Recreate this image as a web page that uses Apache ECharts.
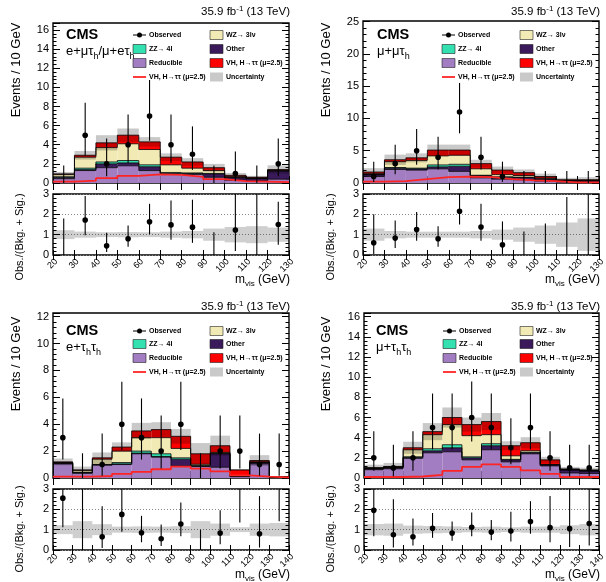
<!DOCTYPE html>
<html><head><meta charset="utf-8">
<script src="https://cdn.jsdelivr.net/npm/echarts@6/dist/echarts.min.js"></script>
<style>html,body{margin:0;padding:0;background:#fff}#c{width:606px;height:582px}</style>
</head><body><div id="c"></div>
<script>
// ---------------- DATA ----------------
const edgesA = [20,30,40,50,60,70,80,90,100,110,120,130];
const edgesB = [20,30,40,50,60,70,80,90,100,110,120,130,140];

// Panel 1: e+mu tau_h / mu+e tau_h
const p1Reducible = [0.45,1.3,1.6,1.8,1.3,0.9,0.9,0.6,0.3,0.2,0.4];
const p1Other     = [0.15,0.1,0.4,0.3,0.4,0.1,0.1,0.35,0.25,0.25,0.85];
const p1ZZ        = [0.05,0.15,0.2,0.25,0.2,0.1,0.05,0.05,0.02,0.02,0.03];
const p1WZ        = [0.25,1.15,1.5,1.75,1.6,0.8,0.5,0.3,0.1,0.05,0.05];
const p1VH        = [0.05,0.2,0.5,0.9,0.8,0.8,0.65,0.3,0.13,0.08,0.07];
const p1VHLine    = [0.15,0.25,0.5,0.75,0.9,0.85,0.65,0.4,0.2,0.15,0.1];
const p1Unc       = [0.2,0.45,0.8,0.7,0.5,0.4,0.4,0.4,0.25,0.15,0.45];
const p1Obs       = [0,5,2,4,7,4,3,0,1,0,2];
const p1ObsLo     = [0,2.84,0.71,2.09,4.42,2.09,1.37,0,0.17,0,0.71];
const p1ObsHi     = [1.84,8.38,4.64,7.16,10.77,7.16,5.92,1.84,3.3,1.84,4.64];
const p1Ratio     = [0,1.72,0.45,0.8,1.63,1.48,1.37,0,1.23,0,1.5];
const p1RatioLo   = [0,0.97,0.15,0.4,1.02,0.75,0.6,0,0.2,0,0.5];
const p1RatioHi   = [1.8,2.9,1.1,1.45,2.52,2.68,2.72,1.12,3.5,3.5,2.62];
const p1RatioUnc  = [0.22,0.15,0.12,0.13,0.12,0.15,0.18,0.3,0.38,0.42,0.35];

// Panel 2: mu+mu tau_h
const p2Reducible = [1.0,2.1,2.0,2.2,1.8,0.8,0.6,0.5,0.3,0.15,0.15];
const p2Other     = [0.3,0.2,0.2,0.3,0.8,0.35,0.3,0.35,0.3,0.2,0.2];
const p2ZZ        = [0.02,0.1,0.1,0.3,0.3,0.05,0.05,0.05,0.02,0.02,0.02];
const p2WZ        = [0.13,0.9,1.2,1.4,1.4,1.0,0.35,0.25,0.13,0.05,0.05];
const p2VH        = [0.25,0.3,0.4,0.9,0.8,0.8,0.7,0.45,0.25,0.08,0.08];
const p2VHLine    = [0.2,0.3,0.6,0.9,1.0,0.9,0.6,0.4,0.3,0.1,0.1];
const p2Unc       = [0.6,0.8,0.7,0.85,0.85,0.6,0.55,0.5,0.45,0.3,0.4];
const p2Obs       = [1,3,5,4,11,4,1,0,0,0,0];
const p2ObsLo     = [0.17,1.37,2.84,2.09,7.7,2.09,0.17,0,0,0,0];
const p2ObsHi     = [3.3,5.92,8.38,7.16,15.5,7.16,3.3,1.84,1.84,1.84,1.84];
const p2Ratio     = [0.6,0.83,1.25,0.8,2.15,1.38,0.5,0,0,0,0];
const p2RatioLo   = [0.05,0.35,0.7,0.4,1.5,0.7,0.05,0,0,0,0];
const p2RatioHi   = [2.0,1.7,2.12,1.42,3.1,2.52,1.65,1.15,1.55,2.85,3.5];
const p2RatioUnc  = [0.3,0.18,0.15,0.15,0.15,0.18,0.25,0.35,0.45,0.6,0.8];

// Panel 3: e+tau_h tau_h
const p3Reducible = [1.05,0.35,0.95,1.0,1.8,1.55,0.9,0.85,0.8,0.1,1.05,0.05];
const p3Other     = [0.05,0.05,0.05,0.05,0.05,0.05,0.5,0.05,1.0,0.02,0.1,0.01];
const p3ZZ        = [0.02,0.02,0.02,0.1,0.15,0.2,0.1,0.02,0.02,0.01,0.02,0];
const p3WZ        = [0.03,0.15,0.38,0.85,1.0,1.2,0.7,0.1,0.08,0.02,0.03,0.01];
const p3VH        = [0.05,0.03,0.1,0.3,0.5,0.6,0.9,0.78,0.5,0.45,0.1,0.03];
const p3VHLine    = [0.1,0.1,0.15,0.3,0.45,0.65,0.85,0.7,0.5,0.2,0.1,0.05];
const p3Unc       = [0.25,0.25,0.4,0.35,0.6,0.55,0.55,0.8,0.75,0.07,0.4,0.04];
const p3Obs       = [3,0,1,4,3,2,4,0,2,2,1,1];
const p3ObsLo     = [1.37,0,0.17,2.09,1.37,0.71,2.09,0,0.71,0.71,0.17,0.17];
const p3ObsHi     = [5.92,1.84,3.3,7.16,5.92,4.64,7.16,1.84,4.64,4.64,3.3,3.3];
const p3Ratio     = [2.55,0,0.65,1.75,0.85,0.55,1.28,0,0.83,3.4,0.8,8];
const p3RatioLo   = [1.12,0,0.1,0.9,0.38,0.2,0.68,0,0.28,1.35,0.12,1.42];
const p3RatioHi   = [3.5,3.5,2.15,3.05,1.68,1.25,2.33,1.0,1.95,6,2.65,30];
const p3RatioUnc  = [0.22,0.42,0.27,0.15,0.16,0.15,0.17,0.42,0.3,0.12,0.3,0.33];

// Panel 4: mu+tau_h tau_h
const p4Reducible = [0.85,0.95,1.95,2.5,2.6,1.8,2.8,1.6,2.4,1.2,0.5,0.45];
const p4Other     = [0.1,0.1,0.1,0.2,0.4,0.2,0.4,0.2,0.1,0.1,0.3,0.25];
const p4ZZ        = [0.02,0.02,0.05,0.2,0.3,0.1,0.2,0.05,0.05,0.02,0.02,0.02];
const p4WZ        = [0.02,0.03,0.7,1.4,2.0,2.1,0.9,0.35,0.15,0.03,0.03,0.03];
const p4VH        = [0.03,0.05,0.2,0.3,0.7,1.1,1.3,1.0,0.8,0.45,0.05,0.05];
const p4VHLine    = [0.1,0.1,0.15,0.3,0.7,1.1,1.35,1.1,0.75,0.4,0.1,0.1];
const p4Unc       = [0.3,0.35,0.6,0.85,1.0,0.7,0.85,0.45,0.55,0.3,0.2,0.22];
const p4Obs       = [2,1,2,5,5,6,5,3,5,2,1,1];
const p4ObsLo     = [0.71,0.17,0.71,2.84,2.84,3.62,2.84,1.37,2.84,0.71,0.17,0.17];
const p4ObsHi     = [4.64,3.3,4.64,8.38,8.38,9.58,8.38,5.92,8.38,4.64,3.3,3.3];
const p4Ratio     = [1.95,0.75,0.65,1.07,0.83,1.12,0.88,0.93,1.4,1.1,1.05,1.3];
const p4RatioLo   = [0.68,0.12,0.22,0.6,0.45,0.68,0.48,0.42,0.8,0.38,0.15,0.22];
const p4RatioHi   = [3.05,2.5,1.55,1.82,1.4,1.85,1.48,1.88,2.4,2.65,3.4,3.6];
const p4RatioUnc  = [0.28,0.3,0.2,0.18,0.16,0.13,0.15,0.12,0.15,0.15,0.22,0.28];

// ---------------- STYLE / LAYOUT ----------------
const FONT = '"Liberation Sans", Arial, Helvetica, sans-serif';
const C_RED = '#ff0000', C_ZZ = '#33e0b0', C_OTHER = '#3b1a5c', C_WZ = '#f2eab4', C_RED_LINE = '#ff2424', C_REDUC = '#a27dc1';
const compColors = [C_REDUC, C_OTHER, C_ZZ, C_WZ, C_RED];
const UNC_FILL = 'rgba(0,0,0,0.21)';

const panels = [
  {edges:edgesA, xmax:130, comps:[p1Reducible,p1Other,p1ZZ,p1WZ,p1VH], line:p1VHLine, unc:p1Unc,
   obs:p1Obs, lo:p1ObsLo, hi:p1ObsHi, r:p1Ratio, rlo:p1RatioLo, rhi:p1RatioHi, runc:p1RatioUnc,
   main:[53,23,236,160], ratio:[53,194,236,61], ymax:16.73, yint:2,
   label:'{n|e+μτ}{s|h}{n|/μ+eτ}{s|h}', cms:[66,35], lab:[66,51], lumi:[290,12],
   leg:{c1:133,c2:210,rows:[35,49,63,77]}, ytitle:[16,70], rtitle:[20,237], xtitle:[290,280]},
  {edges:edgesA, xmax:130, comps:[p2Reducible,p2Other,p2ZZ,p2WZ,p2VH], line:p2VHLine, unc:p2Unc,
   obs:p2Obs, lo:p2ObsLo, hi:p2ObsHi, r:p2Ratio, rlo:p2RatioLo, rhi:p2RatioHi, runc:p2RatioUnc,
   main:[363,21,236,162], ratio:[363,194,236,61], ymax:25.1, yint:5,
   label:'{n|μ+μτ}{s|h}', cms:[377,35], lab:[377,51], lumi:[600,12],
   leg:{c1:442,c2:520,rows:[35,49,63,77]}, ytitle:[326,70], rtitle:[331,237], xtitle:[600,280]},
  {edges:edgesB, xmax:140, comps:[p3Reducible,p3Other,p3ZZ,p3WZ,p3VH], line:p3VHLine, unc:p3Unc,
   obs:p3Obs, lo:p3ObsLo, hi:p3ObsHi, r:p3Ratio, rlo:p3RatioLo, rhi:p3RatioHi, runc:p3RatioUnc,
   main:[53,313,236,165], ratio:[53,489,236,61], ymax:12.27, yint:2,
   label:'{n|e+τ}{s|h}{n|τ}{s|h}', cms:[66,331], lab:[66,347], lumi:[290,307],
   leg:{c1:133,c2:210,rows:[331,344,358,372]}, ytitle:[16,364], rtitle:[20,529], xtitle:[290,575]},
  {edges:edgesB, xmax:140, comps:[p4Reducible,p4Other,p4ZZ,p4WZ,p4VH], line:p4VHLine, unc:p4Unc,
   obs:p4Obs, lo:p4ObsLo, hi:p4ObsHi, r:p4Ratio, rlo:p4RatioLo, rhi:p4RatioHi, runc:p4RatioUnc,
   main:[364,313,235,165], ratio:[364,489,235,61], ymax:16.37, yint:2,
   label:'{n|μ+τ}{s|h}{n|τ}{s|h}', cms:[376,331], lab:[376,347], lumi:[600,307],
   leg:{c1:443,c2:520,rows:[331,344,358,372]}, ytitle:[326,364], rtitle:[331,529], xtitle:[600,575]}
];

const grids = [], xAxes = [], yAxes = [], series = [], graphics = [];

function addGrid(b) {
  grids.push({left:b[0], top:b[1], width:b[2], height:b[3], show:true, borderColor:'#000', borderWidth:1.4,
    backgroundColor:'rgba(0,0,0,0)', containLabel:false, outerBoundsMode:'none'});
  return grids.length - 1;
}
function addAxes(gi, xmax, ymax, yint, isRatio) {
  const xBase = {type:'value', gridIndex:gi, min:20, max:xmax, interval:10,
    axisLine:{show:false}, splitLine:{show:false},
    axisTick:{show:true, inside:true, length:isRatio?5:7, lineStyle:{color:'#000', width:1}},
    minorTick:{show:false}};
  xAxes.push(Object.assign({}, xBase, {position:'bottom',
    axisLabel:{show:isRatio, rotate:45, fontSize:9, color:'#000', fontFamily:FONT, margin:2,
      verticalAlign:'top', showMinLabel:true, showMaxLabel:true, hideOverlap:false}}));
  xAxes.push(Object.assign({}, xBase, {position:'top', axisLabel:{show:false}}));
  const yBase = {type:'value', gridIndex:gi, min:0, max:ymax, interval:yint,
    axisLine:{show:false},
    axisTick:{show:true, inside:true, length:7, lineStyle:{color:'#000', width:1}},
    minorTick:{show:true, splitNumber:5, length:3.5, lineStyle:{color:'#000', width:1}},
    splitLine:isRatio ? {show:true, lineStyle:{color:'#888', type:[1,2], width:1}} : {show:false}};
  yAxes.push(Object.assign({}, yBase, {position:'left',
    axisLabel:{show:true, fontSize:11, color:'#000', fontFamily:FONT, margin:4,
      showMaxLabel:true, hideOverlap:false,
      formatter: v => (Math.abs(v/yint - Math.round(v/yint)) < 1e-6 ? String(Math.round(v)) : '')}}));
  yAxes.push(Object.assign({}, yBase, {position:'right', splitLine:{show:false}, axisLabel:{show:false}}));
}

function rectFrom(api, x0, x1, y0, y1) {
  const a = api.coord([x0, y1]), b = api.coord([x1, y0]);
  return {x:a[0], y:a[1], width:b[0]-a[0], height:b[1]-a[1]};
}

panels.forEach((P) => {
  const gm = addGrid(P.main); addAxes(gm, P.xmax, P.ymax, P.yint, false);
  const gr = addGrid(P.ratio); addAxes(gr, P.xmax, 3, 1, true);
  const xm = gm*2, xr = gr*2;
  const n = P.comps[0].length;

  // cumulative stack tops
  const cum = [];
  for (let i = 0; i < n; i++) { let s = 0; const c = []; P.comps.forEach(a => { s += a[i]; c.push(s); }); cum.push(c); }
  const totals = cum.map(c => c[c.length-1]);

  // stacked histogram
  series.push({type:'custom', xAxisIndex:xm, yAxisIndex:xm, z:1, silent:true, clip:true,
    data: cum.map((c,i) => [P.edges[i], P.edges[i+1]].concat(c)),
    renderItem(params, api) {
      const i = params.dataIndex, x0 = api.value(0), x1 = api.value(1);
      const ch = []; let base = 0;
      const k = P.comps.length;
      for (let j = 0; j < k; j++) {
        const top = api.value(2+j);
        const r = rectFrom(api, x0, x1, base, top);
        if (r.height > 0.3) ch.push({type:'rect', shape:r, style:{fill:compColors[j]}});
        base = top;
      }
      for (let j = 0; j < k; j++) {
        const top = api.value(2+j);
        const prev = i > 0 ? cum[i-1][j] : 0;
        const a = api.coord([x0, top]), b = api.coord([x1, top]), p = api.coord([x0, prev]);
        ch.push({type:'line', shape:{x1:a[0], y1:a[1], x2:b[0], y2:b[1]}, style:{stroke:'#000', lineWidth:0.8}});
        ch.push({type:'line', shape:{x1:p[0], y1:p[1], x2:a[0], y2:a[1]}, style:{stroke:'#000', lineWidth:0.8}});
      }
      return {type:'group', children:ch};
    }});

  // uncertainty band (main)
  series.push({type:'custom', xAxisIndex:xm, yAxisIndex:xm, z:2, silent:true, clip:true,
    data: totals.map((t,i) => [P.edges[i], P.edges[i+1], Math.max(0, t - P.unc[i]), t + P.unc[i]]),
    renderItem(params, api) {
      return {type:'rect', shape:rectFrom(api, api.value(0), api.value(1), api.value(2), api.value(3)), style:{fill:UNC_FILL}};
    }});

  // signal line
  series.push({type:'line', xAxisIndex:xm, yAxisIndex:xm, z:3, step:'end', symbol:'none', silent:true, clip:true,
    data: P.edges.map((e,i) => [e, P.line[Math.min(i, n-1)]]),
    lineStyle:{color:C_RED_LINE, width:1.8}});

  // observed
  const obsRender = (params, api) => {
    const x = (api.value(0) + api.value(1)) / 2;
    const v = api.value(2), lo = api.value(3), hi = api.value(4);
    const pl = api.coord([x, lo]), ph = api.coord([x, hi]), p = api.coord([x, v]);
    const ch = [{type:'line', shape:{x1:pl[0], y1:pl[1], x2:ph[0], y2:ph[1]}, style:{stroke:'#000', lineWidth:1.1}}];
    if (v > 0) ch.push({type:'circle', shape:{cx:p[0], cy:p[1], r:2.8}, style:{fill:'#000'}});
    return {type:'group', children:ch};
  };
  series.push({type:'custom', xAxisIndex:xm, yAxisIndex:xm, z:4, silent:true, clip:true,
    data: P.obs.map((v,i) => [P.edges[i], P.edges[i+1], v, P.lo[i], P.hi[i]]), renderItem: obsRender});

  // ratio band
  series.push({type:'custom', xAxisIndex:xr, yAxisIndex:xr, z:1, silent:true, clip:true,
    data: P.runc.map((u,i) => [P.edges[i], P.edges[i+1], 1 - u, 1 + u]),
    renderItem(params, api) {
      return {type:'rect', shape:rectFrom(api, api.value(0), api.value(1), api.value(2), api.value(3)), style:{fill:'rgba(0,0,0,0.19)'}};
    }});
  // ratio points
  series.push({type:'custom', xAxisIndex:xr, yAxisIndex:xr, z:4, silent:true, clip:true,
    data: P.r.map((v,i) => [P.edges[i], P.edges[i+1], v, P.rlo[i], P.rhi[i]]), renderItem: obsRender});

  // ---------- texts ----------
  const txt = (x, y, text, opt) => graphics.push(Object.assign({type:'text', x:x, y:y, silent:true,
    style:Object.assign({text:text, fill:'#000', fontFamily:FONT, fontSize:11, align:'left', verticalAlign:'middle'}, opt || {})}));
  txt(P.lumi[0], P.lumi[1], '{n|35.9 fb}{p|-1}{n| (13 TeV)}', {align:'right',
    rich:{n:{fontSize:11.5, fontFamily:FONT, fill:'#000'}, p:{fontSize:8, fontFamily:FONT, fill:'#000', padding:[0,0,7,0]}}});
  txt(P.cms[0], P.cms[1], 'CMS', {fontSize:14.5, fontWeight:'bold'});
  txt(P.lab[0], P.lab[1], P.label, {
    rich:{n:{fontSize:13, fontFamily:FONT, fill:'#000'}, s:{fontSize:9, fontFamily:FONT, fill:'#000', padding:[11,0,0,0]}}});
  // y titles
  graphics.push({type:'text', x:P.ytitle[0], y:P.ytitle[1], rotation:Math.PI/2, silent:true,
    style:{text:'Events / 10 GeV', fill:'#000', fontFamily:FONT, fontSize:13, align:'center', verticalAlign:'middle'}});
  graphics.push({type:'text', x:P.rtitle[0], y:P.rtitle[1], rotation:Math.PI/2, silent:true,
    style:{text:'Obs./(Bkg. + Sig.)', fill:'#000', fontFamily:FONT, fontSize:11, align:'center', verticalAlign:'middle'}});
  txt(P.xtitle[0], P.xtitle[1], '{n|m}{s|vis}{n| (GeV)}', {align:'right',
    rich:{n:{fontSize:12, fontFamily:FONT, fill:'#000'}, s:{fontSize:8, fontFamily:FONT, fill:'#000', padding:[8,0,0,0]}}});

  // ---------- legend ----------
  const L = P.leg, bw = 13, bh = 9, lf = {fontSize:7, fontWeight:'bold'};
  const box = (x, y, color) => graphics.push({type:'rect', silent:true, shape:{x:x, y:y-bh/2, width:bw, height:bh},
    style:{fill:color, stroke:color === UNC_FILL ? 'rgba(0,0,0,0)' : '#222', lineWidth:0.6}});
  graphics.push({type:'line', silent:true, shape:{x1:L.c1, y1:L.rows[0], x2:L.c1+bw, y2:L.rows[0]}, style:{stroke:'#000', lineWidth:1}});
  graphics.push({type:'circle', silent:true, shape:{cx:L.c1+bw/2, cy:L.rows[0], r:2.5}, style:{fill:'#000'}});
  txt(L.c1+16, L.rows[0], 'Observed', lf);
  box(L.c1, L.rows[1], C_ZZ); txt(L.c1+16, L.rows[1], 'ZZ→ 4l', lf);
  box(L.c1, L.rows[2], C_REDUC); txt(L.c1+16, L.rows[2], 'Reducible', lf);
  graphics.push({type:'line', silent:true, shape:{x1:L.c1, y1:L.rows[3], x2:L.c1+bw, y2:L.rows[3]}, style:{stroke:C_RED_LINE, lineWidth:1.8}});
  txt(L.c1+16, L.rows[3], 'VH, H→ττ (μ=2.5)', lf);
  box(L.c2, L.rows[0], C_WZ); txt(L.c2+16, L.rows[0], 'WZ→ 3lν', lf);
  box(L.c2, L.rows[1], C_OTHER); txt(L.c2+16, L.rows[1], 'Other', lf);
  box(L.c2, L.rows[2], C_RED); txt(L.c2+16, L.rows[2], 'VH, H→ττ (μ=2.5)', lf);
  box(L.c2, L.rows[3], UNC_FILL); txt(L.c2+16, L.rows[3], 'Uncertainty', lf);
});

const chart = echarts.init(document.getElementById('c'), null, {renderer:'canvas', width:606, height:582});
chart.setOption({
  animation:false,
  backgroundColor:'#fff',
  grid:grids, xAxis:xAxes, yAxis:yAxes, series:series,
  graphic:{elements:graphics}
});
</script></body></html>
